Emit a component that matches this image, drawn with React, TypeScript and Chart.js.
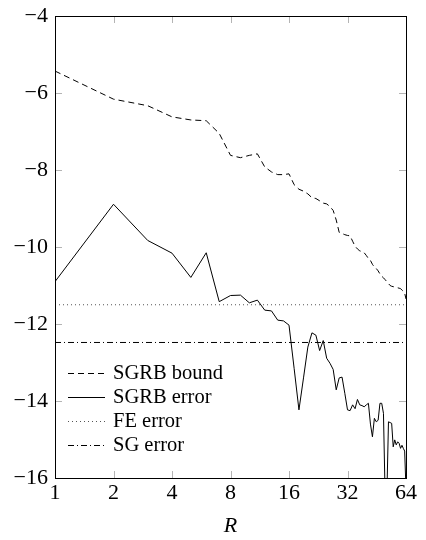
import React, { useEffect, useRef } from "react";
import { Chart, registerables } from "chart.js";

Chart.register(...registerables);

const rValues = [
  1, 2, 3, 4, 5, 6, 7, 8, 9, 10, 11, 12, 13, 14, 15, 16,
  17, 18, 19, 20, 21, 22, 23, 24, 25, 26, 27, 28, 29, 30, 31, 32,
  33, 34, 35, 36, 37, 38, 39, 40, 41, 42, 43, 44, 45, 46, 47, 48,
  49, 50, 51, 52, 53, 54, 55, 56, 57, 58, 59, 60, 61, 62, 63, 64,
];

const sgrbBound = [
  -5.43, -6.16, -6.33, -6.62, -6.7, -6.72, -7.05, -7.62, -7.68, -7.62, -7.58, -7.92, -8.05, -8.12, -8.12, -8.1,
  -8.38, -8.5, -8.55, -8.62, -8.72, -8.74, -8.8, -8.86, -8.88, -8.95, -9.05, -9.3, -9.62, -9.65, -9.68, -9.7,
  -9.71, -9.85, -9.98, -10.05, -10.1, -10.12, -10.15, -10.22, -10.3, -10.35, -10.45, -10.52, -10.56, -10.62, -10.7, -10.76,
  -10.8, -10.85, -10.9, -10.95, -11.0, -11.02, -11.03, -11.04, -11.05, -11.06, -11.07, -11.08, -11.12, -11.15, -11.2, -11.35,
];

const sgrbError = [
  -10.9, -8.89, -9.83, -10.16, -10.79, -10.15, -11.42, -11.26, -11.25, -11.45, -11.38, -11.64, -11.66, -11.9, -11.92, -12.03,
  -13.15, -14.23, -13.4, -12.6, -12.23, -12.29, -12.69, -12.43, -12.89, -13.02, -13.18, -13.71, -13.4, -13.38, -13.8, -14.23,
  -14.25, -14.1, -14.2, -13.96, -14.1, -14.12, -14.15, -14.1, -14.06, -14.6, -14.93, -14.45, -14.54, -14.5, -14.06, -14.06,
  -14.32, -16.5, -16.5, -14.54, -14.56, -14.58, -15.19, -15.01, -15.14, -15.06, -15.1, -15.23, -15.15, -15.23, -15.3, -16.3,
];

const feErrorRange = [1, 64];
const feError = [-11.5, -11.5];
const sgErrorRange = [1, 64];
const sgError = [-12.48, -12.48];

const seriesLabels = ["SGRB bound", "SGRB error", "FE error", "SG error"];
const xTicks = [1, 2, 4, 8, 16, 32, 64];
const yTicks = [-16, -14, -12, -10, -8, -6, -4];

const FONT = "'Liberation Serif', 'DejaVu Serif', serif";

const framePlugin = {
  id: "frame",
  afterDatasetsDraw(chart: any) {
    const { ctx, chartArea } = chart;
    const { left, right, top, bottom } = chartArea;
    const xs = chart.scales.x;
    const ys = chart.scales.y;
    const tl = 7;
    ctx.save();
    ctx.strokeStyle = "#b4b4b4";
    ctx.lineWidth = 1;
    ctx.beginPath();
    xTicks.forEach((v) => {
      const px = Math.round(xs.getPixelForValue(v)) + 0.5;
      if (px <= left + 1 || px >= right - 1) return;
      ctx.moveTo(px, bottom);
      ctx.lineTo(px, bottom - tl);
      ctx.moveTo(px, top);
      ctx.lineTo(px, top + tl);
    });
    yTicks.forEach((v) => {
      const py = Math.round(ys.getPixelForValue(v)) + 0.5;
      if (py <= top + 1 || py >= bottom - 1) return;
      ctx.moveTo(left, py);
      ctx.lineTo(left + tl, py);
      ctx.moveTo(right, py);
      ctx.lineTo(right - tl, py);
    });
    ctx.stroke();
    ctx.strokeStyle = "#000";
    ctx.lineWidth = 1;
    ctx.strokeRect(Math.round(left) + 0.5, Math.round(top) + 0.5, Math.round(right - left), Math.round(bottom - top));

    // legend inside plot area
    const x0 = left + 13;
    const sample = 37;
    const rowH = 24;
    const y0 = top + 357;
    ctx.font = "20.5px " + FONT;
    ctx.textBaseline = "middle";
    ctx.textAlign = "left";
    chart.data.datasets.forEach((ds: any, i: number) => {
      const y = Math.round(y0 + i * rowH) + 0.5;
      ctx.save();
      ctx.strokeStyle = ds.borderColor;
      ctx.lineWidth = ds.borderWidth;
      ctx.setLineDash(ds.borderDash || []);
      ctx.beginPath();
      ctx.moveTo(x0, y);
      ctx.lineTo(x0 + sample, y);
      ctx.stroke();
      ctx.restore();
      ctx.fillStyle = "#000";
      ctx.fillText(ds.label, x0 + sample + 8, y);
    });
    ctx.restore();
  },
};

export default function App() {
  const ref = useRef<HTMLCanvasElement | null>(null);

  useEffect(() => {
    document.body.style.margin = "0";
    const canvas = ref.current;
    if (!canvas) return;
    const toPts = (xs: number[], ys: number[]) => xs.map((x, i) => ({ x, y: ys[i] }));
    const chart = new Chart(canvas, {
      type: "line",
      data: {
        datasets: [
          {
            label: seriesLabels[0],
            data: toPts(rValues, sgrbBound),
            borderColor: "#000",
            borderWidth: 1,
            borderDash: [6, 4],
            pointRadius: 0,
            tension: 0,
          },
          {
            label: seriesLabels[1],
            data: toPts(rValues, sgrbError),
            borderColor: "#000",
            borderWidth: 1,
            borderDash: [],
            pointRadius: 0,
            tension: 0,
          },
          {
            label: seriesLabels[2],
            data: toPts(feErrorRange, feError),
            borderColor: "#555",
            borderWidth: 1,
            borderDash: [1, 3],
            pointRadius: 0,
            tension: 0,
          },
          {
            label: seriesLabels[3],
            data: toPts(sgErrorRange, sgError),
            borderColor: "#000",
            borderWidth: 1,
            borderDash: [6, 3, 1, 3],
            pointRadius: 0,
            tension: 0,
          },
        ],
      } as any,
      options: {
        animation: false,
        responsive: false,
        maintainAspectRatio: false,
        layout: { padding: { top: 16, right: 20, left: 0, bottom: 0 } },
        plugins: { legend: { display: false }, tooltip: { enabled: false } },
        scales: {
          x: {
            type: "logarithmic",
            min: 1,
            max: 64,
            afterBuildTicks: (s: any) => {
              s.ticks = xTicks.map((v) => ({ value: v }));
            },
            afterFit: (s: any) => {
              s.height = 62;
              s.paddingLeft = 0;
              s.paddingRight = 0;
            },
            ticks: {
              callback: (v: any) => String(v),
              font: { family: FONT, size: 22 },
              color: "#000",
              padding: 2,
              maxRotation: 0,
              autoSkip: false,
            },
            grid: { display: false, drawTicks: false },
            border: { display: false },
            title: {
              display: true,
              text: "R",
              font: { family: FONT, size: 22, style: "italic" },
              color: "#000",
              padding: { top: 0, bottom: 1 },
            },
          },
          y: {
            type: "linear",
            min: -16,
            max: -4,
            afterBuildTicks: (s: any) => {
              s.ticks = yTicks.map((v) => ({ value: v }));
            },
            afterFit: (s: any) => {
              s.width = 55;
              s.paddingTop = 0;
              s.paddingBottom = 0;
            },
            ticks: {
              callback: (v: any) => (v < 0 ? "\u2212" + Math.abs(v) : String(v)),
              font: { family: FONT, size: 22 },
              color: "#000",
              padding: 7,
            },
            grid: { display: false, drawTicks: false },
            border: { display: false },
          },
        },
      } as any,
      plugins: [framePlugin],
    });
    return () => chart.destroy();
  }, []);

  return (
    <div style={{ width: 426, height: 540 }}>
      <canvas ref={ref} width={426} height={540} style={{ display: "block", width: 426, height: 540 }} />
    </div>
  );
}
